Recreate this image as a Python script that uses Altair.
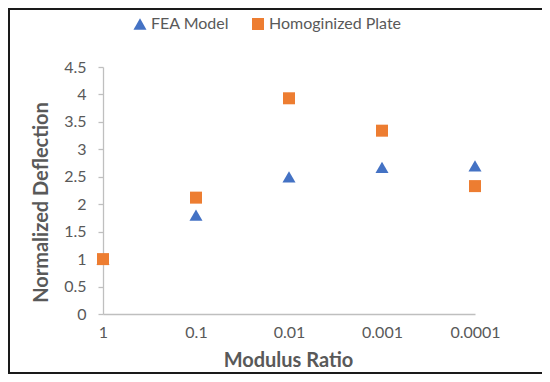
import altair as alt
import pandas as pd

categories = ["1", "0.1", "0.01", "0.001", "0.0001"]
fea_model = [1.0, 1.8, 2.5, 2.67, 2.7]
homog_plate = [1.0, 2.12, 3.93, 3.34, 2.33]
series_names = ["FEA Model", "Homoginized Plate"]
y_ticks = [0, 0.5, 1, 1.5, 2, 2.5, 3, 3.5, 4, 4.5]

rows = []
for c, v in zip(categories, fea_model):
    rows.append({"ratio": c, "value": v, "series": series_names[0]})
for c, v in zip(categories, homog_plate):
    rows.append({"ratio": c, "value": v, "series": series_names[1]})
df = pd.DataFrame(rows)

FONT = "Lato"
GRAY = "#595959"
AXIS_GRAY = "#BFBFBF"

points = alt.Chart(df).mark_point(filled=True, opacity=1).encode(
    x=alt.X("ratio:N", sort=categories,
            scale=alt.Scale(type="point", padding=0),
            axis=alt.Axis(title="Modulus Ratio", labelAngle=0, ticks=False,
                          labelPadding=10, labelFontSize=16, labelColor=GRAY,
                          labelFont=FONT, domainColor=AXIS_GRAY, domainWidth=1.3,
                          titleFont=FONT, titleFontSize=20, titleFontWeight="bold",
                          titleColor=GRAY, titleX=185, titleY=46,
                          titleBaseline="middle", grid=False)),
    y=alt.Y("value:Q", scale=alt.Scale(domain=[0, 4.5], nice=False),
            axis=alt.Axis(title="Normalized Deflection", values=y_ticks, format="~g",
                          tickSize=5, tickColor=AXIS_GRAY, tickWidth=1.3,
                          labelPadding=12, labelFontSize=16, labelColor=GRAY,
                          labelFont=FONT, domainColor=AXIS_GRAY, domainWidth=1.3,
                          titleFont=FONT, titleFontSize=20, titleFontWeight="bold",
                          titleColor=GRAY, titleX=-62, titleY=135,
                          titleAlign="center", titleBaseline="middle", grid=False)),
    color=alt.Color("series:N", sort=series_names,
                    scale=alt.Scale(domain=series_names, range=["#4472C4", "#ED7D31"]),
                    legend=alt.Legend(title=None, orient="none", direction="horizontal",
                                      legendX=29, legendY=-51, labelFont=FONT,
                                      labelFontSize=16, labelColor=GRAY,
                                      symbolSize=100, labelOffset=3,
                                      columnPadding=20)),
    shape=alt.Shape("series:N", sort=series_names,
                    scale=alt.Scale(domain=series_names, range=["triangle-up", "square"]),
                    legend=None),
    size=alt.Size("series:N",
                  scale=alt.Scale(domain=series_names, range=[170, 144]),
                  legend=None),
)

border = alt.Chart(alt.Data(values=[{}])).mark_rect(
    filled=False, stroke="#1a1a1a", strokeWidth=2
).encode(
    x=alt.value(-94), x2=alt.value(441),
    y=alt.value(-58), y2=alt.value(306),
)

chart = alt.layer(border, points).properties(
    width=372, height=247,
    autosize=alt.AutoSizeParams(type="none"),
    padding={"left": 95, "top": 59, "right": 67, "bottom": 60},
).configure_view(stroke=None)

chart.save("out.html", embed_options={"renderer": "svg", "actions": False})
